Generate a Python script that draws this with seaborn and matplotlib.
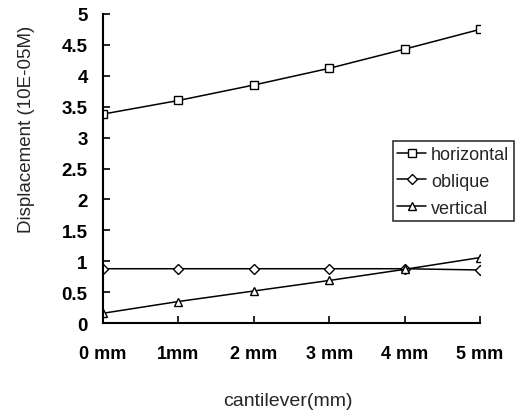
import matplotlib
matplotlib.use("Agg")
import matplotlib.pyplot as plt
import seaborn as sns
import pandas as pd

positions = [0, 1, 2, 3, 4, 5]
tick_labels = ["0 mm", "1mm", "2 mm", "3 mm", "4 mm", "5 mm"]
horizontal = [3.38, 3.60, 3.85, 4.12, 4.43, 4.75]
oblique = [0.88, 0.88, 0.88, 0.88, 0.88, 0.86]
vertical = [0.16, 0.35, 0.52, 0.69, 0.87, 1.06]
series_names = ["horizontal", "oblique", "vertical"]

sns.set_style("ticks")
plt.rcParams["font.family"] = ["Liberation Sans", "DejaVu Sans"]

df = pd.DataFrame({
    "x": positions * 3,
    "y": horizontal + oblique + vertical,
    "series": sum([[n] * len(positions) for n in series_names], []),
})

fig = plt.figure(figsize=(5.2, 4.14), dpi=100)
ax = fig.add_axes([0.198, 0.217, 0.725, 0.747])

sns.lineplot(data=df, x="x", y="y", hue="series", style="series",
             palette=["black"] * 3, markers=["s", "D", "^"], dashes=False,
             markersize=6, markerfacecolor="white", markeredgecolor="black",
             markeredgewidth=1.0, linewidth=1.1, ax=ax, legend=True)
for line in ax.lines:
    if line.get_marker() == "D":
        line.set_markersize(5)

ax.set_xlim(0, 5)
ax.set_ylim(0, 5)
ax.set_xticks(positions)
ax.set_xticklabels(tick_labels, fontweight="bold", fontsize=13)
ax.set_yticks([0, 0.5, 1, 1.5, 2, 2.5, 3, 3.5, 4, 4.5, 5])
ax.set_yticklabels(["0", "0.5", "1", "1.5", "2", "2.5", "3", "3.5", "4", "4.5", "5"],
                   fontweight="bold", fontsize=13.5)
ax.tick_params(axis="both", direction="in", length=5, width=1.2, colors="black")
ax.tick_params(axis="x", pad=16)
ax.tick_params(axis="y", pad=11)
for s in ["top", "right"]:
    ax.spines[s].set_visible(False)
for s in ["left", "bottom"]:
    ax.spines[s].set_linewidth(1.5)
    ax.spines[s].set_color("black")

ax.set_xlabel("cantilever(mm)", fontsize=14)
ax.set_ylabel("Displacement (10E-05M)", fontsize=13.5)
ax.xaxis.set_label_coords(0.49, -0.222)
ax.yaxis.set_label_coords(-0.18, 0.63)

leg = ax.legend(loc="upper left", bbox_to_anchor=(0.769, 0.588), frameon=True,
                fancybox=False, edgecolor="black", fontsize=13,
                handlelength=1.6, handletextpad=0.25, borderpad=0.25,
                borderaxespad=0, labelspacing=0.55)
leg.get_frame().set_linewidth(1.2)

fig.savefig("out.png", dpi=100)
